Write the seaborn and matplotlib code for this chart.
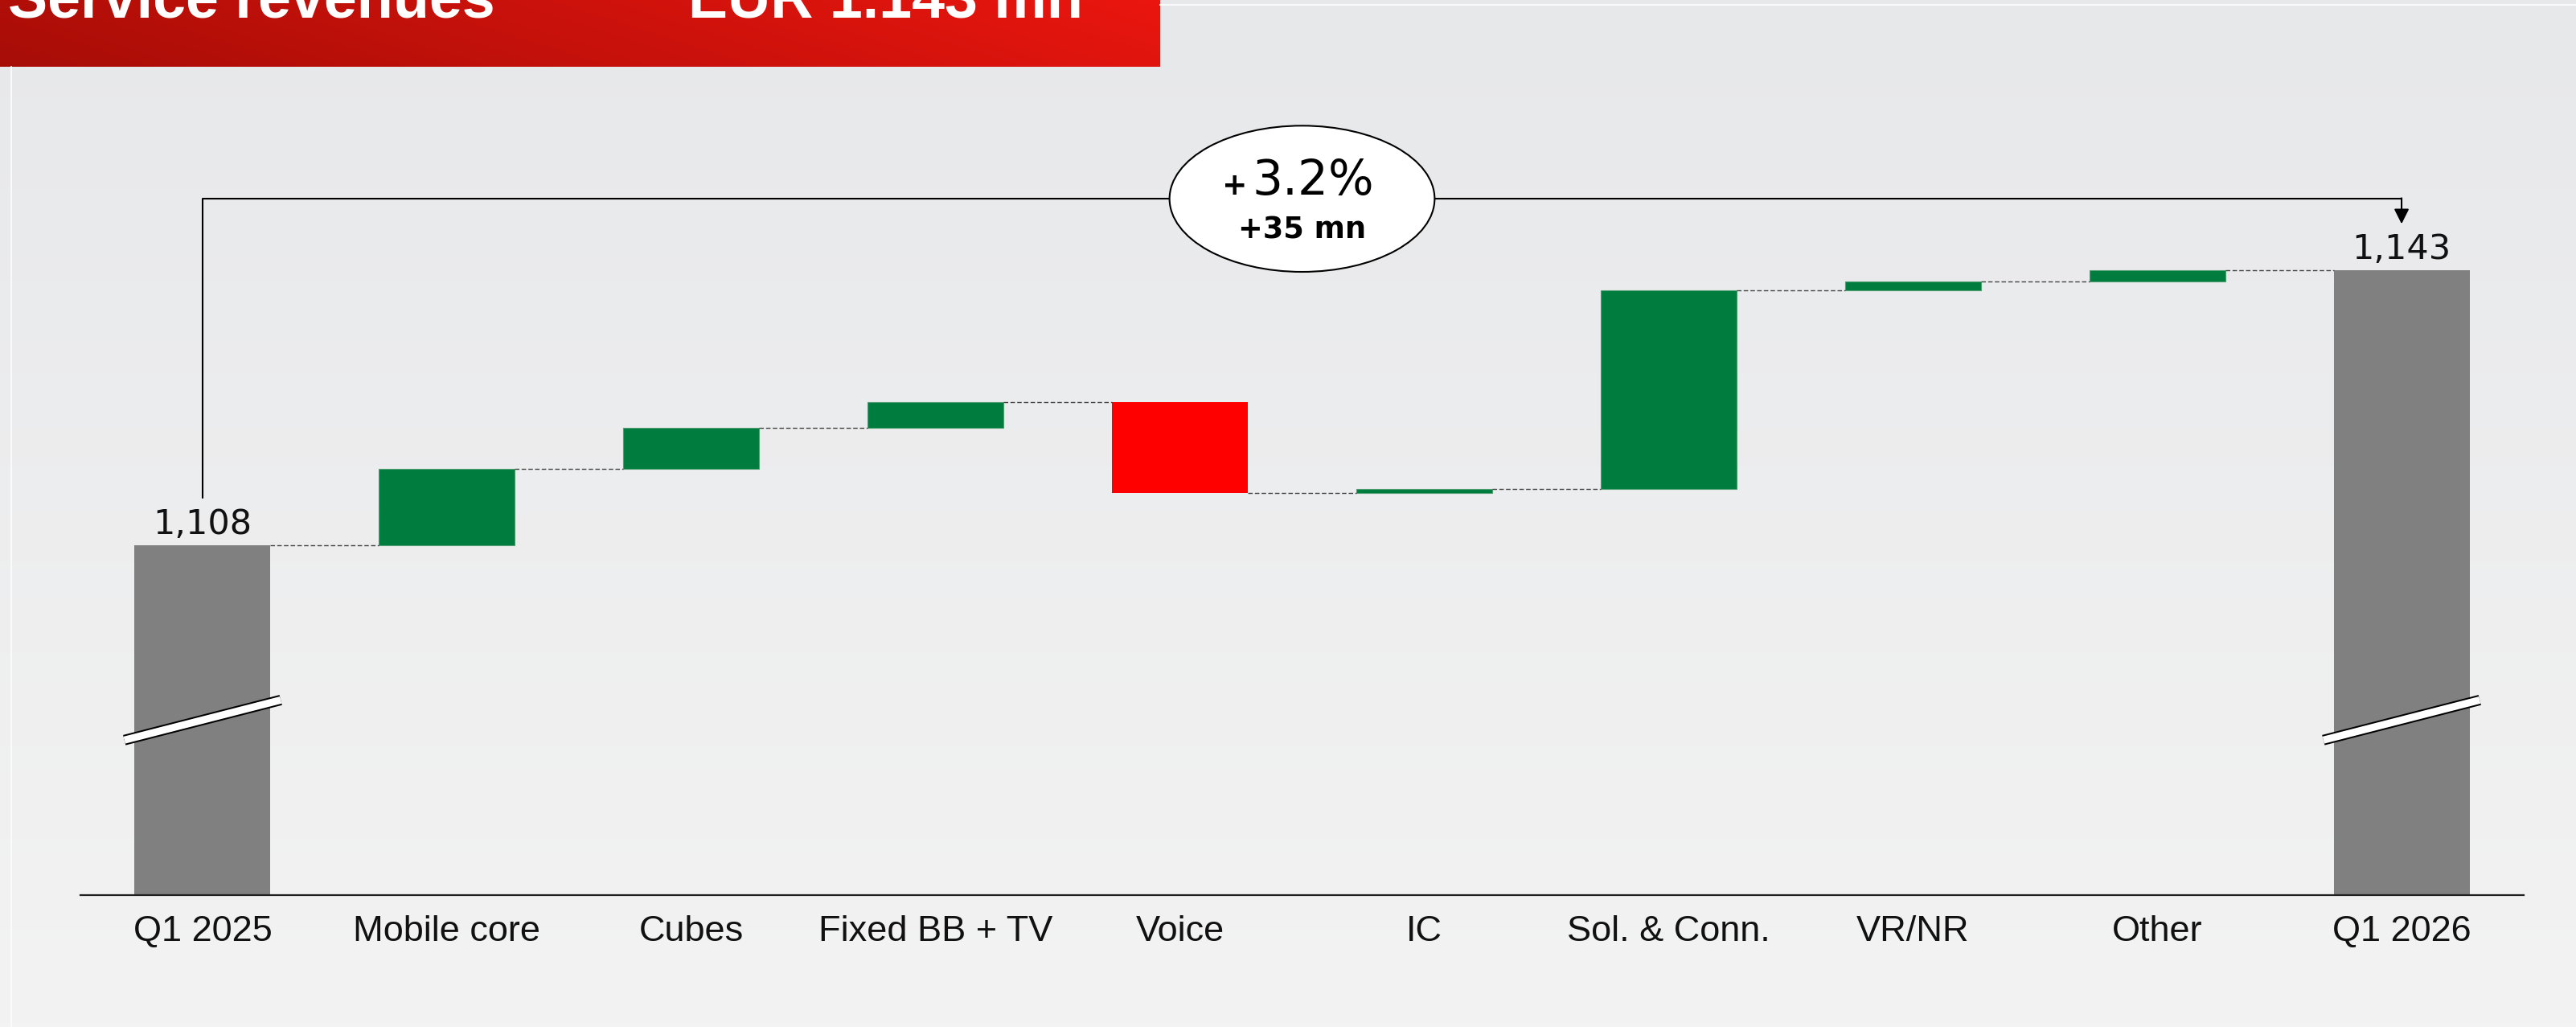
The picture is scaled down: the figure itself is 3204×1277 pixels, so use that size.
import numpy as np
import pandas as pd
import matplotlib
matplotlib.use("Agg")
import matplotlib.pyplot as plt
from matplotlib.patches import Ellipse
from matplotlib.lines import Line2D
from matplotlib.colors import to_rgb
import seaborn as sns

# Werte (EUR mn)
categories = ["Q1 2025", "Mobile core", "Cubes", "Fixed BB + TV", "Voice",
              "IC", "Sol. & Conn.", "VR/NR", "Other", "Q1 2026"]
start_total = 1108
end_total = 1143
deltas = [9.7, 5.2, 3.3, -11.6, 0.6, 25.2, 1.2, 1.4]
total_labels = ["1,108", "1,143"]
header_left = "Service revenues"
header_right = "EUR 1.143 mn"
growth_pct = "3.2%"
growth_abs = "+35 mn"

GREEN = "#007c3f"
RED = "#ff0000"
GREY = "#808080"

# Wasserfall: Niveau nach jedem Schritt
levels = start_total + np.cumsum([0] + deltas)
bottoms = [0] + [min(levels[i], levels[i + 1]) for i in range(len(deltas))] + [0]
heights = [start_total] + [abs(d) for d in deltas] + [end_total]
colors = [GREY] + [GREEN if d >= 0 else RED for d in deltas] + [GREY]

df = pd.DataFrame({"category": categories, "height": heights})

sns.set_theme(style="white")
plt.rcParams["font.family"] = ["Liberation Sans", "DejaVu Sans"]

W, H = 3204, 1277
fig = plt.figure(figsize=(W / 100, H / 100), dpi=100)

# Hintergrund mit leichtem Verlauf
bg = fig.add_axes([0, 0, 1, 1], zorder=-10)
top_c = np.array(to_rgb("#e7e8ea"))
bot_c = np.array(to_rgb("#f3f3f3"))
t = np.linspace(0, 1, 256)[:, None, None]
bg.imshow(top_c * (1 - t) + bot_c * t, aspect="auto", extent=[0, 1, 0, 1])
bg.axis("off")
fig.add_artist(Line2D([14 / W, 14 / W], [0, 1 - 83 / H], color="#fafafa", lw=1.5))
fig.add_artist(Line2D([1443 / W, 1], [1 - 6 / H, 1 - 6 / H], color="#fafafa", lw=1.5))

# roter Kopfbalken (Text oben angeschnitten wie im Original)
hdr = fig.add_axes([0, 1 - 83 / H, 1443 / W, 83 / H], zorder=-5)
xx = np.linspace(0, 1, 300)[None, :]
rr = np.linspace(0, 1, 40)[:, None]
s = np.clip(0.85 * xx + 0.15 * (1 - rr), 0, 1)[:, :, None]
left_c = np.array(to_rgb("#a70d07"))
right_c = np.array(to_rgb("#ea160f"))
hdr.imshow(left_c * (1 - s) + right_c * s, aspect="auto", extent=[0, 1, 0, 1])
hdr.axis("off")
fig.text(10 / W, 1 - 21 / H, header_left, color="white", fontsize=53,
         weight="bold", va="baseline", ha="left")
fig.text(856 / W, 1 - 21 / H, header_right, color="white", fontsize=53,
         weight="bold", va="baseline", ha="left")

# Hauptdiagramm
ax = fig.add_axes([100 / W, 1 - 1112.7 / H, 3039 / W, 1112.7 / H])
ax.set_facecolor("none")
bar_w = 0.556
sns.barplot(data=df, x="category", y="height", bottom=bottoms, color=GREY,
            width=bar_w, errorbar=None, ax=ax, linewidth=0, saturation=1)
for p, c in zip(ax.patches, colors):
    p.set_facecolor(c)
    if c == GREEN:
        p.set_edgecolor("#4f9f72")
        p.set_linewidth(0.8)

ax.set_xlim(-0.5, len(categories) - 0.5)
ax.set_ylim(1063.5, 1177.4)
ax.set_xlabel("")
ax.set_ylabel("")
ax.set_yticks([])
ax.tick_params(axis="x", length=0, pad=18, labelsize=32.5, colors="#111111")
sns.despine(ax=ax, left=True)
ax.spines["bottom"].set_color("#222222")
ax.spines["bottom"].set_linewidth(1.6)

# Verbindungslinien
half = bar_w / 2
for i in range(len(categories) - 1):
    ax.plot([i + half, i + 1 - half], [levels[i], levels[i]], ls=(0, (4, 2)),
            lw=1.0, color="#444444", zorder=1)

# Summenlabels
for x, v, lab in [(0, start_total, total_labels[0]),
                  (len(categories) - 1, end_total, total_labels[1])]:
    ax.annotate(lab, xy=(x, v), xytext=(0, 10), textcoords="offset points",
                ha="center", va="baseline", fontsize=31,
                family="DejaVu Sans", color="#111111")

# Achsenbruch auf den Summenbalken
break_lo, break_hi = 1083.2, 1088.3
for x in [0, len(categories) - 1]:
    ax.plot([x - 0.32, x + 0.32], [break_lo, break_hi], color="black", lw=9.4,
            solid_capstyle="butt", zorder=4, clip_on=False)
    ax.plot([x - 0.32, x + 0.32], [break_lo, break_hi], color="white", lw=6.5,
            solid_capstyle="butt", zorder=5, clip_on=False)

# Klammer mit Pfeil und Ellipse
last = len(categories) - 1
bracket_y = end_total + 9.1
ax.plot([0, 0, last], [start_total + 6.0, bracket_y, bracket_y], color="black",
        lw=1.5, clip_on=False, zorder=3)
ax.annotate("", xy=(last, end_total + 5.9), xytext=(last, bracket_y + 0.08),
            arrowprops=dict(arrowstyle="-|>", lw=1.5, color="black",
                            mutation_scale=28, shrinkA=0, shrinkB=0),
            annotation_clip=False)
ax.add_patch(Ellipse((4.5, bracket_y), 1.085, 18.6, facecolor="white",
                     edgecolor="black", lw=1.5, zorder=6, clip_on=False))
ax.text(4.546, end_total + 9.65, growth_pct, ha="center", va="baseline",
        fontsize=43, family="DejaVu Sans", color="black", zorder=7)
ax.text(4.225, end_total + 9.65, "+", ha="center", va="baseline",
        fontsize=27, family="DejaVu Sans", weight="bold", color="black", zorder=7)
ax.text(4.5, end_total + 4.02, growth_abs, ha="center", va="baseline",
        fontsize=26.5, family="DejaVu Sans", weight="bold", color="black", zorder=7)

fig.savefig("out.png", dpi=100)
plt.close(fig)
